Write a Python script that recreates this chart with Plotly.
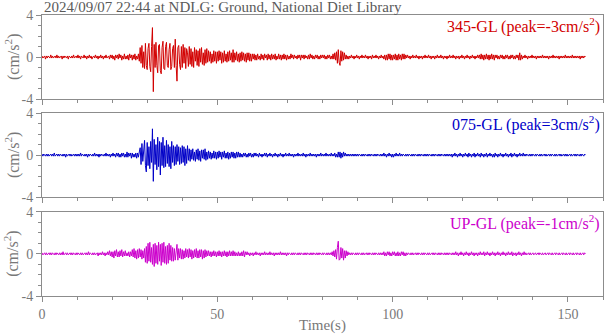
import numpy as np
import plotly.graph_objects as go

DT = 0.25

# acceleration samples in units of 0.1 cm/s^2, one line per 10 s
ns345 = [
    1,-1,0,1,-2,1,-1,1,0,-1, 2,-1,1,-1,0,1,-1,2,-1,1, -1,0,1,-2,1,-1,1,0,-1,1, -2,1,0,-1,1,-1,2,-1,0,1,
    -1,2,-1,1,-2,1,0,-1,2,-1, 1,-2,1,-1,2,-1,1,-2,0,1, -1,2,-1,1,-2,1,-1,2,-1,1, -2,1,-1,2,-1,0,1,-2,2,-1,
    2,-2,1,-3,2,-1,2,-2,3,-1, 2,-3,1,-2,3,-2,1,-2,2,-3, 3,-1,2,-3,2,-2,3,-3,1,-2, 3,-4,9,-6,11,-10,5,-11,13,-8,
    -12,8,13,-9,-14,10,28,-33,12,-10, 14,-8,-15,11,12,-13,-16,9,15,-11, -12,10,14,-8,-10,7,13,-12,-9,8, 11,-10,17,-8,-23,9,11,-7,-12,10,
    -10,12,-6,9,-11,8,4,-9,10,-7, 8,-9,5,-10,9,-4,7,-8,6,-9, 8,-5,9,-7,4,-8,7,-6,8,-5, 6,-4,5,-6,3,-5,6,-4,5,-6,
    5,-4,6,-3,5,-6,4,-5,6,-4, 3,-5,5,-4,6,-3,4,-5,7,-5, 4,-3,5,-4,3,-5,4,-4,5,-3, 4,-4,3,-5,4,-3,4,-4,3,-4,
    3,-2,3,-3,2,-3,3,-2,1,-3, 3,-2,2,-3,3,-1,2,-3,3,-2, 2,-3,3,-2,2,-2,3,-3,1,-2, 3,-2,2,-3,2,-2,3,-2,2,-3,
    2,-2,1,-2,3,-1,2,-2,2,-1, 1,-2,2,-1,2,-3,2,-1,2,-2, 2,-1,1,-2,2,-2,3,-1,2,-2, 1,-2,2,-1,2,-2,1,-2,2,-1,
    2,-1,2,-2,1,-2,2,-1,2,-2, 1,-2,3,-2,4,-3,5,-6,7,-5, -8,6,-4,5,-3,4,-2,2,-2,1, -2,1,-1,2,-1,1,-2,1,-1,2,
    -1,1,-2,1,-1,2,-1,1,-1,2, -1,1,-2,1,-1,1,-2,2,-1,1, -1,2,-1,1,-2,1,-1,2,-1,1, -2,2,-3,2,-3,3,-2,3,-3,2,
    -3,2,-2,3,-3,2,-3,3,-2,2, -3,3,-2,3,-2,2,-1,2,-1,1, -2,1,-1,2,-1,1,-1,2,-1,1, -2,1,-1,1,-2,1,-1,2,-1,1,
    -1,2,-1,1,-2,1,-1,1,-2,1, -1,2,-1,1,-1,2,-1,1,-2,1, -1,1,-2,1,-1,2,-1,1,-1,2, -1,1,-2,1,-1,1,-2,1,-1,2,
    -1,1,-2,1,-1,2,-1,1,-2,1, -1,2,-1,1,-2,1,-1,2,-1,2, -2,3,-2,2,-3,2,-2,3,-2,2, -3,2,-2,3,-2,2,-3,2,-1,2,
    -2,1,-2,2,-1,2,-2,1,-2,2, -1,2,-2,1,-2,2,-1,2,-2,1, -2,2,-1,2,-3,4,-3,2,-2,1, -1,2,-1,1,-2,1,-1,1,-1,2,
    -1,1,-1,1,-2,1,-1,1,-1,1, -1,2,-1,1,-1,1,-1,1,-2,1, -1,1,-1,2,-1,1,-1,1,-1,1, -2,1,-1,1,-1,1,-1,2,-1,1,
    -1,1,-1,1,-1,2,-1,1,-1,1, -1,1,-1,1,-2,1,-1,1,-1,1, 0,
]
ew075 = [
    1,-1,1,0,-1,1,-1,1,-1,0, 1,-1,1,-1,2,-1,0,1,-1,1, -1,1,0,-1,1,-1,1,-2,1,-1, 0,1,-1,1,-1,0,1,-1,1,-1,
    1,-1,1,-1,2,-1,1,0,-1,1, -1,1,-2,1,-1,1,0,-1,1,-1, 2,-1,1,-1,1,-2,1,-1,1,0, -1,1,-1,2,-1,1,-1,1,-2,1,
    -1,2,-1,1,-2,2,-1,2,-2,1, -2,2,-1,2,-2,1,-2,3,-2,2, -1,2,-3,2,-2,1,-2,2,-3,2, -2,3,7,-9,11,-6,8,14,-10,-16,
    12,-10,8,-13,13,-7,25,-25,15,-9, 10,-14,17,-11,13,-19,12,-10,17,-12, 9,-11,14,-8,10,-11,8,-13,13,-7, 9,-10,8,-9,10,-6,8,-9,7,-8,
    9,-7,8,-10,6,-8,9,-5,6,-6, 5,-4,6,-5,3,-6,5,-4,6,-5, 4,-6,5,-3,5,-4,6,-5,3,-4, 4,-3,3,-4,2,-3,4,-3,3,-4,
    3,-3,4,-2,3,-4,3,-2,4,-3, 2,-3,3,-4,2,-3,3,-2,3,-3, 2,-3,3,-2,3,-2,2,-2,1,-2, 2,-1,2,-2,1,-2,2,-1,2,-2,
    1,-2,2,-1,2,-1,1,-2,2,-1, 1,-2,1,-1,2,-1,2,-2,1,-1, 2,-1,1,-2,1,-1,2,-1,1,-2, 1,-1,2,-1,1,-2,1,-1,2,-1,
    1,-1,2,-1,1,-1,1,-2,1,-1, 1,-1,2,-1,1,-1,1,-1,2,-1, 1,-2,1,-1,1,-1,2,-1,1,-1, 1,-1,1,-2,1,-1,1,-1,2,-1,
    1,-1,1,-1,2,-1,1,-1,1,-1, 2,-1,1,-1,2,-2,1,-2,3,-2, 3,-3,2,-2,3,-1,2,-1,1,-1, 1,-1,1,-1,1,-1,1,-1,1,-1,
    1,-1,1,0,-1,1,-1,1,-1,1, 0,-1,1,-1,1,-1,1,0,-1,1, -1,1,-1,1,0,-1,1,-1,1,-1, 2,-1,1,-2,1,-1,2,-1,1,-2,
    1,-2,1,-1,2,-1,1,-1,2,-1, 1,-1,1,0,-1,1,-1,1,-1,1, 0,-1,1,-1,1,-1,1,0,-1,1, -1,1,-1,1,0,-1,1,-1,1,-1,
    1,-1,1,0,-1,1,-1,1,-1,1, 0,-1,1,-1,1,-1,1,0,-1,1, -1,1,-1,1,-1,1,-1,1,-2,1, -1,2,-1,1,-2,1,-1,2,-1,1,
    -2,1,-1,2,-1,1,-2,2,-1,1, -2,1,-1,2,-2,1,-1,2,-1,1, -2,2,-1,1,-2,1,-1,2,-2,1, -1,2,-1,1,-2,1,-2,2,-1,1,
    -2,1,-1,2,-1,1,-2,1,-1,2, -1,1,-2,1,-1,2,-2,1,-1,2, -1,1,-2,1,-1,2,-1,1,-1,2, -1,1,-1,1,0,-1,1,-1,1,-1,
    1,0,-1,1,-1,1,0,-1,1,-1, 1,-1,0,1,-1,1,-1,0,1,-1, 1,-1,1,0,-1,1,-1,1,-1,0, 1,-1,1,-1,0,1,-1,1,-1,1,
    -1,0,1,-1,1,-1,0,1,-1,1, -1,1,0,-1,1,-1,1,0,-1,1, 0,
]
up = [
    1,-1,0,1,-1,1,-1,0,1,-1, 1,-1,1,0,-1,1,-1,1,0,-1, 1,-1,1,-1,2,-1,0,1,-1,1, -1,0,1,-1,1,-1,1,0,-1,1,
    -1,1,0,-1,1,-1,1,-1,0,1, -1,1,-1,2,-1,1,0,-1,1,-1, 1,-1,0,1,-2,1,-1,1,-1,2, -1,1,-2,1,-1,2,-1,3,-2,2,
    -3,2,-4,3,-2,4,-3,2,-3,3, -2,4,-3,2,-2,3,-2,1,-2,2, -3,2,-2,4,-3,5,-4,3,-5,4, -4,5,-3,4,-5,3,-4,5,-8,7,
    -9,10,-7,11,-8,6,-10,9,-12,10, -9,8,-10,11,-7,9,-11,10,-8,11, -9,7,-10,8,-9,10,-6,8,-7,6, -7,5,-6,4,9,-6,5,-4,5,-5,
    4,-5,3,-4,5,-3,4,-4,5,-3, 4,-5,3,-4,4,-3,5,-4,3,-4, 4,-3,4,-5,3,-4,4,-3,3,-2, 3,-2,2,-3,2,-2,3,-2,2,-3,
    2,-2,3,-2,2,-3,2,-2,3,-2, 2,-3,2,-2,3,-2,2,-2,3,-2, 2,-2,1,-2,2,-2,1,-2,2,-2, 3,-3,2,-1,2,-1,1,-2,1,-1,
    1,-2,1,-1,2,-1,1,-1,1,-2, 1,-1,1,-1,2,-1,1,-1,1,-1, 2,-1,1,-1,1,-2,1,-1,1,-1, 1,-1,2,-1,1,-1,1,-1,1,-2,
    1,-1,1,0,-1,1,-1,1,-1,1, 0,-1,1,-1,1,-1,1,0,-1,1, -1,1,-1,1,0,-1,1,-1,1,-1, 1,0,-1,1,-1,1,-1,1,0,-1,
    1,-1,1,0,-1,1,-1,1,-1,1, -1,2,-2,3,-3,4,-5,6,12,-6, -5,6,-4,5,-6,3,-4,3,-2,2, -1,1,-1,1,-1,1,0,-1,1,-1,
    1,-1,1,0,-1,1,-1,1,-1,0, 1,-1,1,-1,1,0,-1,1,-1,1, -1,1,0,-1,1,-1,1,-1,1,-1, 2,-2,1,-2,2,-1,2,-2,1,-2,
    2,-1,2,-2,1,-2,2,-2,1,-2, 2,-1,2,-2,1,-2,1,-1,1,0, -1,1,-1,1,-1,0,1,-1,1,-1, 1,0,-1,1,-1,1,-1,1,0,-1,
    1,-1,1,-1,0,1,-1,1,-1,1, 0,-1,1,-1,1,-1,1,0,-1,1, -1,1,-1,1,-1,1,0,-1,1,-1, 1,-1,2,-1,1,-2,1,-1,2,-1,
    1,-2,1,-1,2,-1,1,-2,1,-1, 2,-1,1,-2,1,-1,1,-2,1,-1, 2,-1,1,-1,2,-2,1,-1,2,-1, 1,-2,1,-1,2,-1,1,-2,1,-1,
    2,-1,1,-2,1,-1,2,-1,1,-2, 1,-1,2,-1,1,-1,2,-2,1,-1, 1,-2,1,-1,2,-1,1,-2,1,-1, 2,-1,1,-1,0,1,-1,1,-1,0,
    1,-1,0,1,-1,0,1,-1,1,0, -1,1,-1,0,1,-1,0,1,-1,1, 0,-1,1,-1,0,1,-1,1,0,-1, 1,-1,0,1,-1,1,0,-1,1,-1,
    0,1,-1,1,0,-1,1,-1,0,1, -1,1,0,-1,1,-1,0,1,-1,1, 0,
]

components = ["345-GL", "075-GL", "UP-GL"]
peaks = ["-3", "3", "-1"]
colors = ["rgb(210,0,0)", "rgb(0,0,200)", "rgb(204,0,204)"]
x_ticks = [0, 50, 100, 150]
x_ticktext = ["0", "50", "100", "150"]
y_ticks = [-4, 0, 4]
y_ticktext = ["-4", "0", "4"]
title_text = "2024/09/07 22:44 at NDLG: Ground, National Diet Library"
x_title = "Time(s)"
y_title = "(cm/s<sup>2</sup>)"

FONT = "Liberation Serif"
AXC = "rgb(140,140,140)"
TXC = "rgb(120,120,120)"

domains = [[0.701, 1.0], [0.352, 0.651], [0.0, 0.300]]
series = [ns345, ew075, up]

fig = go.Figure()
annotations = []
for i, (vals, comp, pk, col) in enumerate(zip(series, components, peaks, colors)):
    n = i + 1
    sfx = "" if n == 1 else str(n)
    v = np.array(vals, dtype=float) / 10.0
    t = np.arange(len(v)) * DT
    fig.add_trace(go.Scatter(x=t, y=v, mode="lines", line=dict(color=col, width=1),
                             xaxis="x" + sfx, yaxis="y" + sfx, hoverinfo="skip"))
    fig.update_layout(**{
        "xaxis" + sfx: dict(domain=[0, 1], range=[0, 160], anchor="y" + sfx,
                            showline=True, linecolor=AXC, linewidth=1, mirror=True,
                            showgrid=False, zeroline=False,
                            tickmode="array", tickvals=x_ticks, ticktext=x_ticktext,
                            ticks="outside", ticklen=5, tickcolor=AXC,
                            showticklabels=(n == 3),
                            tickfont=dict(family=FONT, size=14, color=TXC),
                            minor=dict(tickmode="linear", tick0=0, dtick=10, ticks="outside",
                                       ticklen=3, tickcolor=AXC, showgrid=False)),
        "yaxis" + sfx: dict(domain=domains[i], range=[-4, 4], anchor="x" + sfx,
                            showline=True, linecolor=AXC, linewidth=1, mirror=True,
                            showgrid=False, zeroline=False,
                            tickmode="array", tickvals=y_ticks, ticktext=y_ticktext,
                            ticks="outside", ticklen=5, tickcolor=AXC,
                            tickfont=dict(family=FONT, size=14, color=TXC),
                            minor=dict(tickmode="linear", tick0=-4, dtick=1, ticks="outside",
                                       ticklen=3, tickcolor=AXC, showgrid=False)),
    })
    annotations.append(dict(text=f"{comp} (peak={pk}cm/s<sup>2</sup>)",
                            xref="x" + sfx + " domain", yref="y" + sfx + " domain",
                            x=1, y=1, xanchor="right", yanchor="top", xshift=-1, yshift=2,
                            showarrow=False, font=dict(family=FONT, size=16, color=col)))
    annotations.append(dict(text=y_title, xref="paper", yref="y" + sfx + " domain",
                            x=0, y=0.5, xshift=-30, xanchor="center", yanchor="middle",
                            textangle=-90, showarrow=False,
                            font=dict(family=FONT, size=16, color=TXC)))

annotations.append(dict(text=title_text, xref="paper", yref="paper", x=0, y=1,
                        xanchor="left", yanchor="bottom", yshift=-2, showarrow=False,
                        font=dict(family=FONT, size=15, color="rgb(90,90,90)")))
annotations.append(dict(text=x_title, xref="paper", yref="paper", x=0.5, y=0,
                        xanchor="center", yanchor="top", yshift=-19, showarrow=False,
                        font=dict(family=FONT, size=15, color=TXC)))

fig.update_layout(width=605, height=334, margin=dict(l=42, r=2, t=15, b=38),
                  paper_bgcolor="white", plot_bgcolor="white", showlegend=False,
                  annotations=annotations)

fig.write_html("out.html")
